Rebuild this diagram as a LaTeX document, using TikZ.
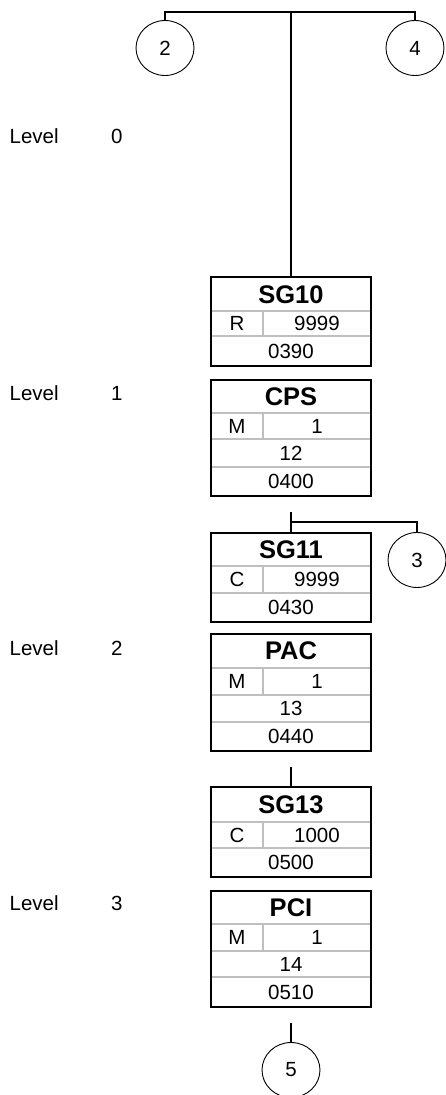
\documentclass[tikz,border=0pt]{standalone}
\usepackage{fontspec}
\setmainfont{Liberation Sans}
\usetikzlibrary{shapes.geometric}
\tikzset{
  segbox/.style={draw=black, line width=2.6pt, minimum width=160pt, inner sep=0pt, fill=none},
  gridline/.style={draw=black!25, line width=1.8pt},
  conn/.style={draw=black, line width=2.6pt},
  refc/.style={ellipse, draw=black, line width=0.9pt, minimum width=58pt, minimum height=55pt, inner sep=0pt, font=\fontsize{20.5}{24}\selectfont},
  hdr/.style={inner sep=0pt, font=\fontsize{25.5}{30}\selectfont\bfseries},
  cell/.style={inner sep=0pt, font=\fontsize{20.5}{24}\selectfont},
  lvl/.style={inner sep=0pt, anchor=base west, font=\fontsize{20.5}{24}\selectfont}
}
\begin{document}
\begin{tikzpicture}[x=1pt,y=-1pt]
\useasboundingbox (0,0) rectangle (445,1095);
% level labels
\node[lvl] (l0a) at (9.5,143) {Level};
\node[lvl] (l0b) at (111,143) {0};
\node[lvl] (l1a) at (9.5,400) {Level};
\node[lvl] (l1b) at (111,400) {1};
\node[lvl] (l2a) at (9.5,655) {Level};
\node[lvl] (l2b) at (111,655) {2};
\node[lvl] (l3a) at (9.5,910) {Level};
\node[lvl] (l3b) at (111,910) {3};

% SG10
\draw[gridline] (211,311) -- (371,311) (211,336) -- (371,336) (263,311) -- (263,336);
\node[segbox, minimum height=89pt] (sg10) at (291,321.5) {};
\node[hdr] (sg10h) at (291,294.5) {SG10};
\node[cell] (sg10s) at (237,323.5) {R};
\node[cell] (sg10r) at (317,323.5) {9999};
\node[cell] (sg10p) at (291,351) {0390};

% CPS
\draw[gridline] (211,413) -- (371,413) (211,439) -- (371,439) (211,467) -- (371,467) (263,413) -- (263,439);
\node[segbox, minimum height=116pt] (cps) at (291,438) {};
\node[hdr] (cpsh) at (291,397) {CPS};
\node[cell] (cpss) at (237,426) {M};
\node[cell] (cpsr) at (317,426) {1};
\node[cell] (cpsn) at (291,453) {12};
\node[cell] (cpsp) at (291,481.5) {0400};

% SG11
\draw[gridline] (211,566) -- (371,566) (211,593) -- (371,593) (263,566) -- (263,593);
\node[segbox, minimum height=89pt] (sg11) at (291,577.5) {};
\node[hdr] (sg11h) at (291,550) {SG11};
\node[cell] (sg11s) at (237,579.5) {C};
\node[cell] (sg11r) at (317,579.5) {9999};
\node[cell] (sg11p) at (291,607.5) {0430};

% PAC
\draw[gridline] (211,668) -- (371,668) (211,695) -- (371,695) (211,722) -- (371,722) (263,668) -- (263,695);
\node[segbox, minimum height=117pt] (pac) at (291,692.5) {};
\node[hdr] (pach) at (291,651) {PAC};
\node[cell] (pacs) at (237,681.5) {M};
\node[cell] (pacr) at (317,681.5) {1};
\node[cell] (pacn) at (291,708.5) {13};
\node[cell] (pacp) at (291,736.5) {0440};

% SG13
\draw[gridline] (211,822) -- (371,822) (211,848) -- (371,848) (263,822) -- (263,848);
\node[segbox, minimum height=90pt] (sg13) at (291,832) {};
\node[hdr] (sg13h) at (291,804.5) {SG13};
\node[cell] (sg13s) at (237,835) {C};
\node[cell] (sg13r) at (317,835) {1000};
\node[cell] (sg13p) at (291,862.5) {0500};

% PCI
\draw[gridline] (211,924) -- (371,924) (211,951) -- (371,951) (211,977) -- (371,977) (263,924) -- (263,951);
\node[segbox, minimum height=116pt] (pci) at (291,949) {};
\node[hdr] (pcih) at (291,907.5) {PCI};
\node[cell] (pcis) at (237,937.5) {M};
\node[cell] (pcir) at (317,937.5) {1};
\node[cell] (pcin) at (291,964) {14};
\node[cell] (pcip) at (291,992) {0510};

% reference circles
\node[refc] (c2) at (165,48) {2};
\node[refc] (c4) at (415,48) {4};
\node[refc] (c3) at (417,560) {3};
\node[refc] (c5) at (291,1070) {5};

% connectors
\coordinate (top) at (291,12);
\draw[conn] (c2.north) -- (c2.north |- top) -- (c4.north |- top) -- (c4.north);
\draw[conn] (top) -- (sg10.north);
\coordinate (t11) at (291,512);
\coordinate (j11) at (291,522);
\draw[conn] (t11) -- (sg11.north);
\draw[conn] (j11) -| (c3.north);
\coordinate (t13) at (291,767);
\draw[conn] (t13) -- (sg13.north);
\coordinate (t5) at (291,1023);
\draw[conn] (t5) -- (c5.north);
\end{tikzpicture}
\end{document}
